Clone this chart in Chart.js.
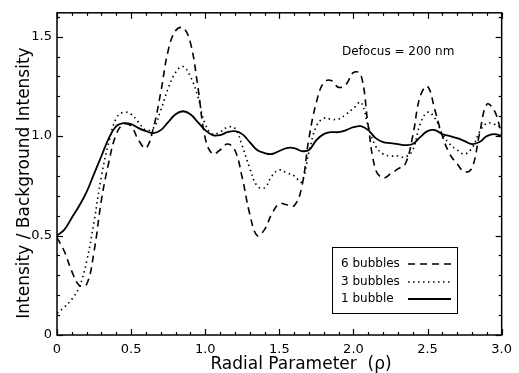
<!DOCTYPE html>
<html>
<head>
<meta charset="utf-8">
<script src="https://cdn.jsdelivr.net/npm/chart.js@4"></script>
<style>
html,body{margin:0;padding:0;background:#fff;}
#wrap{position:relative;width:519px;height:373px;}
</style>
</head>
<body>
<div id="wrap"><canvas id="c" width="519" height="373"></canvas></div>
<script>
// Radial parameter grid (rho)
const rho = [0,0.05,0.1,0.15,0.2,0.25,0.3,0.35,0.4,0.45,0.5,0.55,0.6,0.65,0.7,0.75,0.8,0.85,0.9,0.95,
  1.0,1.05,1.1,1.15,1.2,1.25,1.3,1.35,1.4,1.45,1.5,1.55,1.6,1.65,1.7,1.75,1.8,1.85,1.9,1.95,
  2.0,2.05,2.1,2.15,2.2,2.25,2.3,2.35,2.4,2.45,2.5,2.55,2.6,2.65,2.7,2.75,2.8,2.85,2.9,2.95,3.0];
// 6 bubbles (dashed)
const bubbles6 = [0.49,0.42,0.32,0.25,0.255,0.42,0.68,0.87,1.01,1.06,1.05,0.98,0.94,1.04,1.22,1.43,1.53,1.545,1.47,1.25,
  0.99,0.91,0.93,0.96,0.93,0.79,0.61,0.50,0.53,0.61,0.66,0.655,0.65,0.74,0.99,1.17,1.27,1.28,1.245,1.26,
  1.32,1.31,1.05,0.83,0.79,0.81,0.835,0.86,1.0,1.2,1.25,1.13,1.0,0.91,0.86,0.82,0.84,1.01,1.16,1.13,1.01];
// 3 bubbles (dotted)
const bubbles3 = [0.11,0.14,0.18,0.24,0.37,0.57,0.80,0.97,1.09,1.12,1.11,1.07,1.03,1.04,1.13,1.24,1.32,1.35,1.30,1.20,
  1.06,1.01,1.02,1.045,1.04,0.95,0.84,0.75,0.74,0.80,0.83,0.815,0.80,0.77,0.92,1.05,1.09,1.085,1.085,1.11,
  1.14,1.17,1.05,0.95,0.91,0.90,0.90,0.895,0.93,1.06,1.12,1.09,1.01,0.96,0.93,0.91,0.94,1.02,1.065,1.06,1.04];
// 1 bubble (solid)
const bubbles1 = [0.50,0.53,0.59,0.65,0.72,0.81,0.90,0.99,1.05,1.065,1.06,1.04,1.025,1.015,1.03,1.07,1.11,1.125,1.11,1.07,
  1.03,1.005,1.005,1.02,1.025,1.01,0.97,0.93,0.915,0.91,0.925,0.94,0.94,0.925,0.93,0.98,1.01,1.02,1.02,1.03,
  1.045,1.05,1.03,0.99,0.97,0.965,0.96,0.955,0.96,0.995,1.025,1.03,1.01,1.0,0.99,0.975,0.96,0.97,1.0,1.01,1.0];

const seriesNames = ["6 bubbles","3 bubbles","1 bubble"];
const xTickValues = [0,0.5,1.0,1.5,2.0,2.5,3.0];
const xTickLabels = ["0","0.5","1.0","1.5","2.0","2.5","3.0"];
const yTickValues = [0,0.5,1.0,1.5];
const yTickLabels = ["0","0.5","1.0","1.5"];
const annotationText = "Defocus = 200 nm";
const xTitle = "Radial Parameter  (\u03c1)";
const yTitle = "Intensity / Background Intensity";

const dashes = [[7,5],[1.5,3.5],[]];
const widths = [1.6,1.6,1.8];
const seriesData = [bubbles6,bubbles3,bubbles1];

const datasets = seriesData.map((arr,k)=>({
  label: seriesNames[k],
  data: rho.map((r,i)=>({x:r,y:arr[i]})),
  showLine:true, borderColor:'#000', backgroundColor:'#000',
  borderWidth:widths[k], borderDash:dashes[k], pointRadius:0,
  tension:0.4, fill:false
}));

const FONT = "'DejaVu Sans', sans-serif";

const decor = {
  id:'decor',
  afterDatasetsDraw(chart){
    const ctx = chart.ctx, a = chart.chartArea;
    const xs = chart.scales.x, ys = chart.scales.y;
    ctx.save();
    ctx.strokeStyle='#000'; ctx.lineWidth=1.5; ctx.setLineDash([]);
    ctx.strokeRect(a.left, a.top, a.right-a.left, a.bottom-a.top);
    ctx.lineWidth=1.2;
    for(let i=0;i<=30;i++){
      const v=i/10, px=Math.round(xs.getPixelForValue(v))+0.5;
      const L = (i%5===0)?6:3;
      ctx.beginPath(); ctx.moveTo(px,a.bottom); ctx.lineTo(px,a.bottom-L); ctx.stroke();
      ctx.beginPath(); ctx.moveTo(px,a.top); ctx.lineTo(px,a.top+L); ctx.stroke();
    }
    for(let i=0;i<=16;i++){
      const v=i/10, py=Math.round(ys.getPixelForValue(v))+0.5;
      const L = (i%5===0)?6:3;
      ctx.beginPath(); ctx.moveTo(a.left,py); ctx.lineTo(a.left+L,py); ctx.stroke();
      ctx.beginPath(); ctx.moveTo(a.right,py); ctx.lineTo(a.right-L,py); ctx.stroke();
    }
    ctx.fillStyle='#000';
    ctx.font = "17px " + FONT;
    ctx.textAlign='center'; ctx.textBaseline='alphabetic';
    ctx.fillText(xTitle, 301, 369);
    ctx.save();
    ctx.translate(29, 183);
    ctx.rotate(-Math.PI/2);
    ctx.fillText(yTitle, 0, 0);
    ctx.restore();
    ctx.font = "12px " + FONT;
    ctx.textBaseline='middle'; ctx.textAlign='left';
    ctx.fillText(annotationText, 342, 52);
    ctx.lineWidth=1;
    ctx.strokeRect(332.5,247.5,125,66);
    const rows=[264,282,299];
    for(let k=0;k<3;k++){
      ctx.fillText(seriesNames[k], 341, rows[k]);
      ctx.beginPath();
      ctx.setLineDash(dashes[k]);
      ctx.lineWidth=widths[k];
      ctx.moveTo(408,rows[k]); ctx.lineTo(451,rows[k]); ctx.stroke();
      ctx.setLineDash([]);
    }
    ctx.restore();
  }
};

new Chart(document.getElementById('c'),{
  type:'scatter',
  data:{datasets},
  options:{
    responsive:false, animation:false, devicePixelRatio:1,
    layout:{padding:{top:11,right:10,left:0,bottom:0}},
    plugins:{legend:{display:false},tooltip:{enabled:false}},
    scales:{
      x:{type:'linear',min:0,max:3.0,
        grid:{display:false,drawTicks:false},border:{display:false},
        afterBuildTicks(s){ s.ticks = xTickValues.map(v=>({value:v})); },
        afterFit(s){ s.height = 38; },
        ticks:{color:'#000',font:{family:FONT,size:13},padding:7,maxRotation:0,
          callback:(v)=>{const i=xTickValues.indexOf(v);return i>=0?xTickLabels[i]:'';}},
        title:{display:false}
      },
      y:{type:'linear',min:0,max:1.62,
        grid:{display:false,drawTicks:false},border:{display:false},
        afterBuildTicks(s){ s.ticks = yTickValues.map(v=>({value:v})); },
        afterFit(s){ s.width = 57; },
        ticks:{color:'#000',font:{family:FONT,size:13},padding:5,
          callback:(v)=>{const i=yTickValues.indexOf(v);return i>=0?yTickLabels[i]:'';}},
        title:{display:false}
      }
    }
  },
  plugins:[decor]
});
</script>
</body>
</html>
